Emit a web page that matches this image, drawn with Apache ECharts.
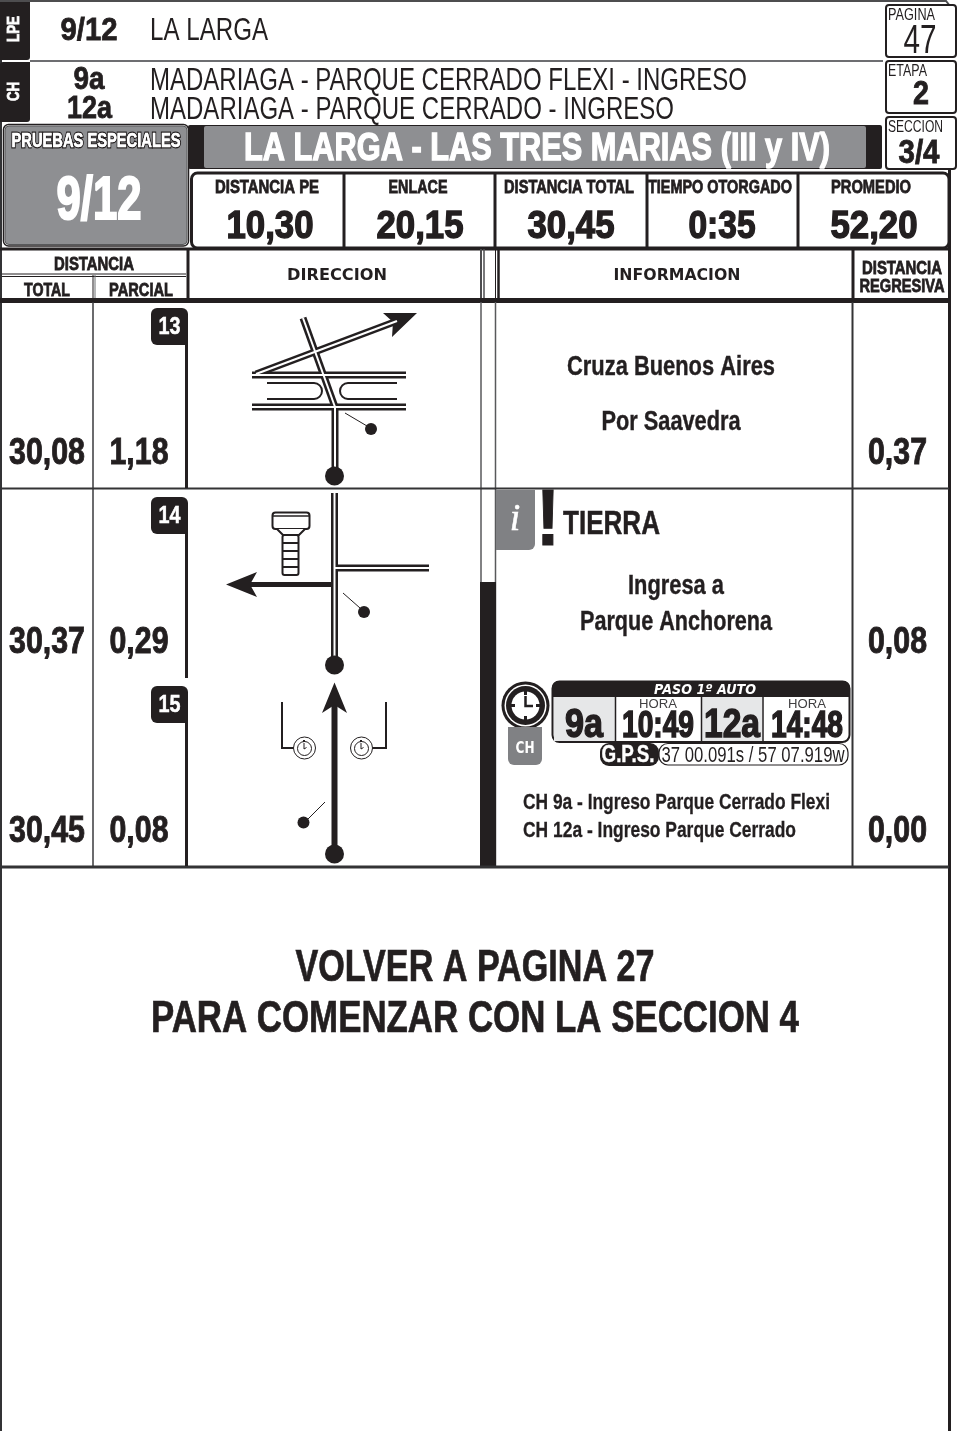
<!DOCTYPE html>
<html>
<head>
    <meta charset="utf-8">
    <title>LA LARGA - hoja de ruta</title>
    <script src="https://cdn.jsdelivr.net/npm/echarts@6/dist/echarts.min.js"></script>
    <style>
        html, body { margin: 0; padding: 0; background: #fff; }
        #main { width: 957px; height: 1431px; }
    </style>
</head>
<body>
<div id="main"></div>
<script type="text/javascript">
    // datos de la hoja
    var sideTabs = ['LPE', 'CH'];
    var stageCodes = ['9/12', '9a', '12a'];
    var stageNames = ['LA LARGA', 'MADARIAGA - PARQUE CERRADO FLEXI - INGRESO', 'MADARIAGA - PARQUE CERRADO - INGRESO'];
    var pageBoxLabels = ['PAGINA', 'ETAPA', 'SECCION'];
    var pageBoxValues = ['47', '2', '3/4'];
    var summaryLabels = ['DISTANCIA PE', 'ENLACE', 'DISTANCIA TOTAL', 'TIEMPO OTORGADO', 'PROMEDIO'];
    var summaryValues = ['10,30', '20,15', '30,45', '0:35', '52,20'];
    var rowNumbers = ['13', '14', '15'];
    var rowTotals = ['30,08', '30,37', '30,45'];
    var rowPartials = ['1,18', '0,29', '0,08'];
    var rowRemaining = ['0,37', '0,08', '0,00'];
    var passCodes = ['9a', '12a'];
    var passTimes = ['10:49', '14:48'];
    var closing = ['VOLVER A PAGINA 27', 'PARA COMENZAR CON LA SECCION 4'];

    var BLACK = '#231f20', GREY = '#8e8f92', MID = '#808184', LINE = '#4d4d4f';
    var NARROW = '"Liberation Sans Narrow","Liberation Sans",sans-serif';
    var WIDE = '"DejaVu Sans",sans-serif';
    var measure = document.createElement('canvas').getContext('2d');

    function buildSheet(api) {
        var out = [];
        function xy(x, y) { return api.coord([x, y]); }
        function pts(list) { return list.map(function (p) { return xy(p[0], p[1]); }); }

        function rect(x0, y0, x1, y1, fill, r, stroke, lw) {
            var a = xy(x0, y0), b = xy(x1, y1);
            out.push({
                type: 'rect',
                shape: {x: a[0], y: a[1], width: b[0] - a[0], height: b[1] - a[1], r: r || 0},
                style: {fill: fill || 'none', stroke: stroke || null, lineWidth: lw || 0}
            });
        }
        function line(list, color, lw) {
            out.push({
                type: 'polyline',
                shape: {points: pts(list)},
                style: {fill: 'none', stroke: color || BLACK, lineWidth: lw || 1, lineJoin: 'miter'}
            });
        }
        function poly(list, color) {
            out.push({type: 'polygon', shape: {points: pts(list)}, style: {fill: color || BLACK}});
        }
        function dot(x, y, r, fill, stroke, lw) {
            var c = xy(x, y);
            out.push({
                type: 'circle',
                shape: {cx: c[0], cy: c[1], r: r},
                style: {fill: fill || BLACK, stroke: stroke || null, lineWidth: lw || 0}
            });
        }
        function arc(x, y, r, from, to, lw) {
            var c = xy(x, y);
            out.push({
                type: 'arc',
                shape: {cx: c[0], cy: c[1], r: r, startAngle: from, endAngle: to, clockwise: true},
                style: {fill: 'none', stroke: BLACK, lineWidth: lw}
            });
        }
        // texto; o.w ajusta el ancho horizontal al del original
        function text(str, x, y, size, o) {
            o = o || {};
            var family = o.family || NARROW;
            var weight = o.weight || 'bold';
            var font = (o.italic ? 'italic ' : '') + weight + ' ' + size + 'px ' + family;
            var sx = 1;
            if (o.w) {
                measure.font = font;
                sx = o.w / measure.measureText(str).width;
            }
            // la linea media de estas fuentes queda alta, se baja un poco
            var c = xy(x, o.rotation ? y : y + size * 0.07);
            var heavy = Math.max(0.5, size * 0.025);
            out.push({
                type: 'text',
                x: c[0],
                y: c[1],
                scaleX: sx,
                rotation: o.rotation || 0,
                style: {
                    text: str,
                    x: 0,
                    y: 0,
                    font: font,
                    align: o.align || 'center',
                    verticalAlign: 'middle',
                    fill: o.fill || BLACK,
                    stroke: o.stroke === undefined ? (weight === 'bold' ? (o.fill || BLACK) : null) : o.stroke,
                    lineWidth: o.lw === undefined ? heavy : o.lw,
                    lineJoin: 'round'
                }
            });
        }

        // marco de la pagina
        line([[1, 0], [1, 1431]], '#333335', 2);
        line([[0, 1], [946, 1], [950, 6]], LINE, 2);
        line([[949.5, 170], [949.5, 1431]], BLACK, 3);

        // solapas laterales
        rect(0, 2, 30, 60, BLACK, [0, 0, 3, 0]);
        rect(0, 62, 30, 122, BLACK, [3, 0, 3, 0]);
        text(sideTabs[0], 14.5, 29, 17, {fill: '#fff', rotation: Math.PI / 2, w: 26, lw: 0.8});
        text(sideTabs[1], 14.5, 91.5, 17, {fill: '#fff', rotation: Math.PI / 2, w: 19, lw: 0.8});
        line([[30, 61], [883, 61]], '#6d6e71', 2);

        // etapa / control horario
        text(stageCodes[0], 89, 29, 31, {w: 57});
        text(stageCodes[1], 89, 78, 31, {w: 31});
        text(stageCodes[2], 89.5, 107, 31, {w: 45});
        text(stageNames[0], 150, 29, 31, {weight: 'normal', align: 'left', w: 118});
        text(stageNames[1], 150, 79, 31, {weight: 'normal', align: 'left', w: 597});
        text(stageNames[2], 150, 108, 31, {weight: 'normal', align: 'left', w: 524});

        // cajas de pagina, etapa, seccion
        var boxTops = [5, 61, 117];
        var labelW = [47, 39, 55];
        var valueStyle = [
            {x: 920, y: 39, size: 40, weight: 'normal', w: 33},
            {x: 921, y: 92, size: 34, weight: 'bold', w: 16},
            {x: 919, y: 152, size: 33, weight: 'bold', w: 41}
        ];
        boxTops.forEach(function (top, i) {
            rect(886, top, 956, top + 52, '#fff', 3, BLACK, 2);
            text(pageBoxLabels[i], 888, top + 9, 16, {weight: 'normal', align: 'left', w: labelW[i], stroke: null});
            var v = valueStyle[i];
            text(pageBoxValues[i], v.x, v.y, v.size, {weight: v.weight, w: v.w});
        });

        // prueba especial
        rect(3.5, 124.5, 188.5, 246, '#fff', 5, BLACK, 1.5);
        rect(5, 126, 187, 244.5, GREY, 4, '#58595b', 1);
        text('PRUEBAS ESPECIALES', 96, 140, 20, {fill: '#fff', stroke: BLACK, lw: 3, w: 169});
        text('PRUEBAS ESPECIALES', 96, 140, 20, {fill: '#fff', stroke: '#fff', lw: 0.4, w: 169});
        text(stageCodes[0], 99, 198, 62, {fill: '#fff', w: 85, lw: 2.2});
        rect(188, 125, 882, 169, BLACK, 2);
        rect(204, 126, 866, 168, GREY, 2);
        text('LA LARGA - LAS TRES MARIAS (III y IV)', 537, 147, 39, {fill: '#fff', w: 586, lw: 1.4});

        // resumen
        rect(191.5, 173, 949, 248, '#fff', 6, BLACK, 3);
        [344, 495, 647, 798].forEach(function (x) { line([[x, 173], [x, 248]], BLACK, 3); });
        var summaryCx = [267, 418, 569, 720, 871];
        var summaryLabelW = [104, 59, 130, 144, 80];
        var summaryValueCx = [270, 420, 571, 722, 874];
        var summaryValueW = [87, 87, 87, 67, 87];
        summaryLabels.forEach(function (s, i) {
            text(s, summaryCx[i], 186, 19, {w: summaryLabelW[i], lw: 0.8});
            text(summaryValues[i], summaryValueCx[i], 225, 38, {w: summaryValueW[i], lw: 1.4});
        });

        // cabecera de la tabla
        line([[0, 249], [949, 249]], BLACK, 3);
        line([[0, 300.5], [949, 300.5]], BLACK, 5);
        line([[2, 274], [186, 274]], BLACK, 1);
        line([[2, 276.5], [186, 276.5]], BLACK, 1);
        line([[93, 275], [93, 298]], BLACK, 1);
        line([[95, 275], [95, 298]], '#6d6e71', 1);
        line([[188, 249], [188, 300]], BLACK, 3);
        line([[481, 249], [481, 298]], LINE, 2);
        line([[484, 249], [484, 298]], LINE, 1.5);
        line([[495.5, 249], [495.5, 298]], BLACK, 1);
        line([[498.5, 249], [498.5, 298]], BLACK, 2.5);
        line([[853, 249], [853, 298]], BLACK, 3);
        text('DISTANCIA', 94, 263, 19, {w: 80, lw: 0.8});
        text('TOTAL', 47, 289, 19, {w: 46, lw: 0.8});
        text('PARCIAL', 141, 289, 19, {w: 64, lw: 0.8});
        text('DIRECCION', 337, 275, 15, {family: WIDE, w: 100, stroke: null});
        text('INFORMACION', 677, 275, 15, {family: WIDE, w: 127, stroke: null});
        text('DISTANCIA', 902, 267, 19, {w: 80, lw: 0.8});
        text('REGRESIVA', 902, 285, 19, {w: 85, lw: 0.8});

        // columnas y filas
        line([[93, 302], [93, 866]], '#3a3a3c', 1.5);
        line([[481, 302], [481, 866]], '#58595b', 1.5);
        line([[495.5, 302], [495.5, 866]], '#58595b', 1.5);
        rect(480, 582, 496, 866, BLACK);
        line([[852.5, 302], [852.5, 866]], '#333335', 2);
        line([[0, 488.5], [949, 488.5]], '#333335', 2);
        line([[0, 867], [949, 867]], '#333335', 3);

        var rowY = [452, 641, 830];
        var badgeTop = [308, 497, 686];
        var ruleEnd = [488, 678, 866];
        rowNumbers.forEach(function (n, i) {
            line([[186.5, badgeTop[i] + 30], [186.5, ruleEnd[i]]], BLACK, 3);
            rect(151, badgeTop[i], 188, badgeTop[i] + 37, BLACK, [6, 6, 0, 6]);
            text(n, 169.5, badgeTop[i] + 18, 23, {fill: '#fff', w: 22, lw: 0.5});
            text(rowTotals[i], 47, rowY[i], 36, {w: 76});
            text(rowPartials[i], 139, rowY[i], 36, {w: 59});
            text(rowRemaining[i], 897.5, rowY[i], 36, {w: 59});
        });

        // fila 13: cruce
        var roads13 = [
            [[335, 406], [335, 470]],
            [[252, 375], [406, 375]],
            [[252, 407], [406, 407]],
            [[303, 318], [335, 407]],
            [[256, 374], [397, 321]]
        ];
        roads13.forEach(function (r) { line(r, BLACK, 7); });
        poly([[417, 313], [383, 313], [393, 322], [392, 337]]);
        roads13.forEach(function (r) { line(r, '#fff', 2); });
        line([[267, 383], [314, 383]], BLACK, 2);
        line([[267, 399], [314, 399]], BLACK, 2);
        arc(314, 391, 8, -Math.PI / 2, Math.PI / 2, 2);
        line([[397, 383], [348, 383]], BLACK, 2);
        line([[397, 399], [348, 399]], BLACK, 2);
        arc(348, 391, 8, Math.PI / 2, Math.PI * 1.5, 2);
        dot(334.5, 476, 9.5);
        dot(371, 429, 6);
        line([[345, 413], [367, 426]], BLACK, 1);

        // fila 14: giro a la izquierda
        var roads14 = [
            [[334.5, 493], [334.5, 660]],
            [[335, 568], [429, 568]]
        ];
        roads14.forEach(function (r) { line(r, BLACK, 7); });
        line([[332, 584.5], [250, 584.5]], BLACK, 5);
        poly([[226, 584.5], [257, 572], [250, 584.5], [257, 597]]);
        roads14.forEach(function (r) { line(r, '#fff', 2); });
        dot(334.5, 665, 9.5);
        dot(364, 612, 6);
        line([[343, 593], [360, 608]], BLACK, 1);
        // tornillo
        rect(272.5, 512.5, 309.5, 529, '#fff', 3, BLACK, 2);
        line([[273, 516], [309, 516]], BLACK, 1.5);
        poly([[277, 529], [305, 529], [299, 535], [283, 535]], '#fff');
        line([[277, 529], [283, 535], [299, 535], [305, 529]], BLACK, 2);
        rect(282.5, 535, 298.5, 575, '#fff', 2, BLACK, 2);
        [543, 551, 559, 567].forEach(function (y) { line([[283, y], [298, y]], BLACK, 2); });

        // fila 15: recta con controles
        line([[334.5, 852], [334.5, 700]], BLACK, 6);
        poly([[334.5, 682.5], [347, 713], [334.5, 705], [322, 713]]);
        dot(334.5, 854, 9.5);
        dot(303.5, 822.5, 6);
        line([[308, 819], [325, 802]], BLACK, 1);
        line([[282, 702], [282, 748], [294, 748]], BLACK, 2);
        line([[386, 702], [386, 748], [372, 748]], BLACK, 2);
        [304.5, 361.5].forEach(function (cx) {
            dot(cx, 748, 11, '#fff', BLACK, 1);
            dot(cx, 748.5, 7, '#fff', BLACK, 1);
            line([[cx - 0.5, 743], [cx - 0.5, 749], [cx + 2, 747.5]], BLACK, 1);
            rect(cx - 1.5, 740, cx + 0.5, 742, BLACK);
        });

        // informacion
        text('Cruza Buenos Aires', 671, 366, 27, {w: 208, lw: 0.4});
        text('Por Saavedra', 671, 421, 27, {w: 139, lw: 0.4});
        rect(496, 490, 535, 550, MID, [0, 0, 6, 0]);
        text('i', 515, 517, 38, {family: '"Liberation Serif",serif', weight: 'normal', italic: true, fill: '#fff', stroke: '#fff', lw: 0.5});
        text('!', 548, 517, 80, {w: 24, lw: 1, family: '"Liberation Sans",sans-serif'});
        text('TIERRA', 563, 523, 33, {align: 'left', w: 97, lw: 0.5});
        text('Ingresa a', 676, 585, 27, {w: 96, lw: 0.4});
        text('Parque Anchorena', 676, 621, 27, {w: 192, lw: 0.4});

        // control horario
        dot(525.5, 705.5, 24, BLACK);
        dot(525.5, 705.5, 21, '#fff');
        dot(525.5, 705.5, 19.5, BLACK);
        dot(525.5, 705.5, 14, '#fff');
        line([[525.5, 696], [525.5, 706], [533, 706]], BLACK, 2.5);
        rect(524, 689, 527, 695, BLACK);
        rect(524, 716, 527, 722, BLACK);
        rect(509, 704, 515, 707, BLACK);
        rect(536, 704, 542, 707, BLACK);
        rect(508, 727, 542, 765, MID, [0, 0, 6, 6]);
        text(sideTabs[1], 525, 748, 16, {family: WIDE, fill: '#fff', w: 19, stroke: null});

        rect(552.5, 681.5, 849.5, 742, '#fff', 7, BLACK, 2);
        rect(552, 681, 850, 697, BLACK, [7, 7, 0, 0]);
        text('PASO 1º AUTO', 705, 689, 14, {family: WIDE, italic: true, fill: '#fff', w: 102, stroke: null});
        rect(554, 697, 615, 741, '#e6e7e8');
        rect(702, 697, 762, 741, '#e6e7e8');
        [615.5, 701.5, 763].forEach(function (x) { line([[x, 697], [x, 741]], BLACK, 1.5); });
        var codeCx = [584, 732], timeCx = [658, 807];
        var codeW = [38, 56], timeW = [72, 72];
        passCodes.forEach(function (c, i) {
            text(c, codeCx[i], 723, 41, {w: codeW[i], lw: 1.5});
            text('HORA', timeCx[i], 704, 13, {weight: 'normal', w: 38, fill: '#414042'});
            text(passTimes[i], timeCx[i], 725, 36, {w: timeW[i], lw: 1.5});
        });

        rect(659, 743.5, 848, 765, '#fff', 9, BLACK, 1.2);
        rect(600, 743, 659, 766, BLACK, 9);
        text('G.P.S.', 628, 754, 23, {fill: '#fff', w: 53, lw: 0.4});
        text('37 00.091s / 57 07.919w', 753, 754, 22, {weight: 'normal', w: 183});

        text('CH 9a - Ingreso Parque Cerrado Flexi', 523, 801, 22, {align: 'left', w: 307, lw: 0.3});
        text('CH 12a - Ingreso Parque Cerrado', 523, 829, 22, {align: 'left', w: 273, lw: 0.3});

        // cierre
        text(closing[0], 475, 966, 44, {w: 359, lw: 0.7});
        text(closing[1], 475, 1017, 44, {w: 648, lw: 0.7});

        return out;
    }

    var myChart = echarts.init(document.getElementById('main'));
    var option = {
        animation: false,
        backgroundColor: '#fff',
        grid: {left: 0, right: 0, top: 0, bottom: 0},
        xAxis: {type: 'value', min: 0, max: 957, show: false},
        yAxis: {type: 'value', min: 0, max: 1431, inverse: true, show: false},
        series: [{
            type: 'custom',
            coordinateSystem: 'cartesian2d',
            silent: true,
            clip: false,
            data: [[0, 0]],
            renderItem: function (params, api) {
                return {type: 'group', children: buildSheet(api)};
            }
        }]
    };
    myChart.setOption(option);
</script>
</body>
</html>
